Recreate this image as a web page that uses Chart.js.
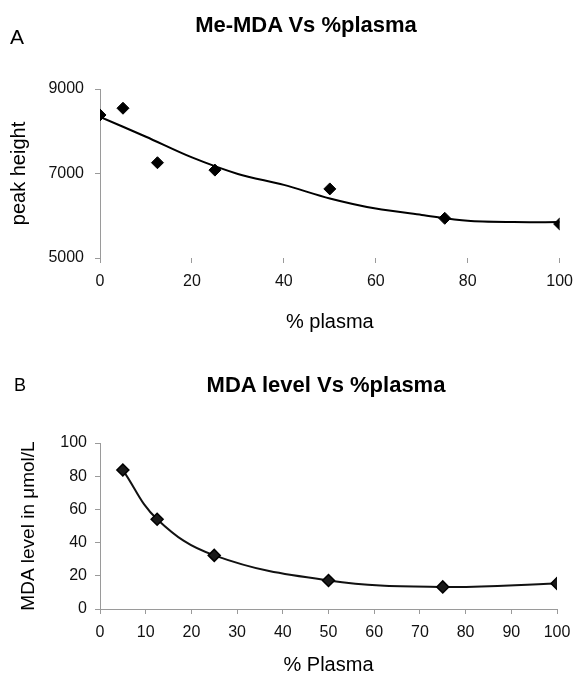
<!DOCTYPE html>
<html>
<head>
<meta charset="utf-8">
<script src="https://cdn.jsdelivr.net/npm/chart.js@4.4.1/dist/chart.umd.min.js"></script>
<style>
  body { margin: 0; background: #fff; font-family: "Liberation Sans", Arial, sans-serif; }
  #page { position: relative; width: 582px; height: 674px; overflow: hidden; }
  .lbl { position: absolute; transform: translate(-50%, -50%); white-space: nowrap; color: #000; line-height: 1; }
  .ttl { font-size: 22px; font-weight: bold; }
  #wrapA { position: absolute; left: 0; top: 0; width: 582px; height: 340px; }
  #wrapB { position: absolute; left: 0; top: 340px; width: 582px; height: 334px; }
</style>
</head>
<body>
<div id="page">
  <div id="wrapA"><canvas id="chartA"></canvas></div>
  <div id="wrapB"><canvas id="chartB"></canvas></div>
  <div class="lbl" style="left:17px; top:36px; font-size:21px;">A</div>
  <div class="lbl ttl" style="left:306px; top:25px;">Me-MDA Vs %plasma</div>
  <div class="lbl" style="left:20px; top:385px; font-size:18px;">B</div>
  <div class="lbl ttl" style="left:326px; top:385px;">MDA level Vs %plasma</div>
</div>
<script>
// panel A: peak height of Me-MDA against % plasma
const plasmaA = [0, 5, 12.5, 25, 50, 75, 100];
const peakHeight = [8385, 8545, 7255, 7080, 6635, 5940, 5805];
// trend line
const trendX = [0, 10, 20, 30, 40, 50, 60, 70, 80, 90, 100];
const trendY = [8340, 7870, 7380, 6990, 6730, 6410, 6170, 6020, 5880, 5850, 5850];
const ticksA_x = [0, 20, 40, 60, 80, 100];
const ticksA_y = [5000, 7000, 9000];

// panel B: MDA level against % plasma
const plasmaB = [5, 12.5, 25, 50, 75, 100];
const mdaLevel = [83.7, 54.1, 32.3, 17.2, 13.3, 15.4];

const FONT = '"Liberation Sans", Arial, sans-serif';
const AXIS_GREY = '#9a9a9a';

function toPoints(xs, ys) {
    return xs.map((x, i) => ({ x: x, y: ys[i] }));
}

function fixedWidth(w) {
    return scale => { scale.width = w; };
}

function fixedHeight(h) {
    return scale => { scale.height = h; };
}

function renderChartA() {
    const ctx = document.getElementById('chartA').getContext('2d');
    new Chart(ctx, {
        type: 'scatter',
        data: {
            datasets: [
                {
                    label: 'trend',
                    data: toPoints(trendX, trendY),
                    showLine: true,
                    borderColor: '#000',
                    borderWidth: 2,
                    tension: 0.3,
                    pointRadius: 0
                },
                {
                    label: 'peak height',
                    data: toPoints(plasmaA, peakHeight),
                    pointStyle: 'rectRot',
                    pointRadius: 6,
                    backgroundColor: '#000',
                    borderColor: '#000',
                    borderWidth: 1
                }
            ]
        },
        options: {
            responsive: true,
            maintainAspectRatio: false,
            animation: false,
            layout: { padding: { top: 89, right: 16, bottom: 0, left: 0 } },
            plugins: { legend: { display: false }, tooltip: { enabled: false } },
            scales: {
                x: {
                    type: 'linear',
                    min: 0,
                    max: 100,
                    afterFit: fixedHeight(82),
                    afterBuildTicks: scale => { scale.ticks = ticksA_x.map(v => ({ value: v })); },
                    border: { display: false },
                    grid: { drawOnChartArea: false, drawTicks: true, tickLength: 5, color: AXIS_GREY },
                    ticks: { color: '#111', padding: 9, font: { family: FONT, size: 16 } },
                    title: {
                        display: true,
                        text: '% plasma',
                        color: '#000',
                        font: { family: FONT, size: 20 },
                        padding: { top: 0, bottom: 6 }
                    }
                },
                y: {
                    min: 5000,
                    max: 9000,
                    afterFit: fixedWidth(100),
                    afterBuildTicks: scale => { scale.ticks = ticksA_y.map(v => ({ value: v })); },
                    border: { display: true, color: AXIS_GREY, width: 1 },
                    grid: { drawOnChartArea: false, drawTicks: true, tickLength: 5, color: AXIS_GREY },
                    ticks: {
                        color: '#111',
                        padding: 11,
                        font: { family: FONT, size: 16 },
                        callback: v => String(v)
                    },
                    title: {
                        display: true,
                        text: 'peak height',
                        color: '#000',
                        font: { family: FONT, size: 20 },
                        padding: { top: 7, bottom: 0 }
                    }
                }
            }
        }
    });
}

function renderChartB() {
    const ctx = document.getElementById('chartB').getContext('2d');
    new Chart(ctx, {
        type: 'scatter',
        data: {
            datasets: [
                {
                    label: 'MDA level',
                    data: toPoints(plasmaB, mdaLevel),
                    showLine: true,
                    borderColor: '#111',
                    borderWidth: 2,
                    tension: 0.4,
                    pointStyle: 'rectRot',
                    pointRadius: 6,
                    backgroundColor: '#1a1a1a',
                    pointBorderColor: '#000',
                    pointBorderWidth: 1.5
                }
            ]
        },
        options: {
            responsive: true,
            maintainAspectRatio: false,
            animation: false,
            layout: { padding: { top: 103, right: 25, bottom: 0, left: 0 } },
            plugins: { legend: { display: false }, tooltip: { enabled: false } },
            scales: {
                x: {
                    type: 'linear',
                    min: 0,
                    max: 100,
                    afterFit: fixedHeight(65),
                    ticks: { stepSize: 10, color: '#111', padding: 9, font: { family: FONT, size: 16 } },
                    border: { display: true, color: AXIS_GREY, width: 1 },
                    grid: { drawOnChartArea: false, drawTicks: true, tickLength: 5, color: AXIS_GREY },
                    title: {
                        display: true,
                        text: '% Plasma',
                        color: '#000',
                        font: { family: FONT, size: 20, lineHeight: 0.9 },
                        padding: { top: 0, bottom: 0 }
                    }
                },
                y: {
                    min: 0,
                    max: 100,
                    afterFit: fixedWidth(100),
                    ticks: { stepSize: 20, color: '#111', padding: 8, font: { family: FONT, size: 16 } },
                    border: { display: true, color: AXIS_GREY, width: 1 },
                    grid: { drawOnChartArea: false, drawTicks: true, tickLength: 5, color: AXIS_GREY },
                    title: {
                        display: true,
                        text: 'MDA level in \u03bcmol/L',
                        color: '#000',
                        font: { family: FONT, size: 19 },
                        padding: { top: 17, bottom: 0 }
                    }
                }
            }
        }
    });
}

renderChartA();
renderChartB();
</script>
</body>
</html>
